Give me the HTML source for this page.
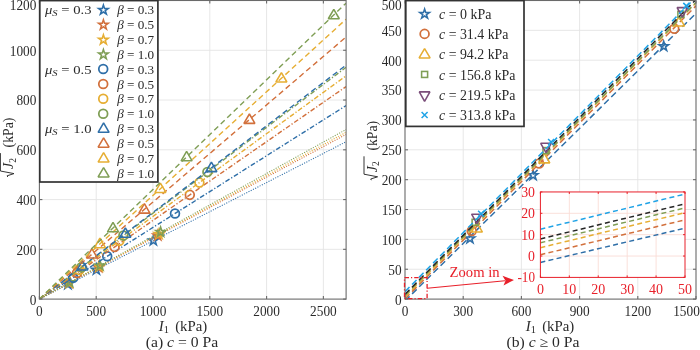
<!DOCTYPE html><html><head><meta charset="utf-8"><style>html,body{margin:0;padding:0;background:#fff;width:700px;height:350px;overflow:hidden}svg{display:block;filter:blur(0.3px);font-family:"Liberation Serif",serif}</style></head><body>
<svg width="700" height="350" viewBox="0 0 700 350">
<rect width="700" height="350" fill="#fff"/>
<defs><clipPath id="cl"><rect x="39.40" y="0.50" width="306.70" height="298.60"/></clipPath><clipPath id="cr"><rect x="405" y="0.8" width="291" height="298.3"/></clipPath></defs>
<line x1="96.20" y1="0.50" x2="96.20" y2="299.10" stroke="#e4e4e4" stroke-width="0.9" stroke-linecap="butt"/>
<line x1="152.99" y1="0.50" x2="152.99" y2="299.10" stroke="#e4e4e4" stroke-width="0.9" stroke-linecap="butt"/>
<line x1="209.79" y1="0.50" x2="209.79" y2="299.10" stroke="#e4e4e4" stroke-width="0.9" stroke-linecap="butt"/>
<line x1="266.59" y1="0.50" x2="266.59" y2="299.10" stroke="#e4e4e4" stroke-width="0.9" stroke-linecap="butt"/>
<line x1="323.38" y1="0.50" x2="323.38" y2="299.10" stroke="#e4e4e4" stroke-width="0.9" stroke-linecap="butt"/>
<line x1="39.40" y1="249.33" x2="346.10" y2="249.33" stroke="#e4e4e4" stroke-width="0.9" stroke-linecap="butt"/>
<line x1="39.40" y1="199.57" x2="346.10" y2="199.57" stroke="#e4e4e4" stroke-width="0.9" stroke-linecap="butt"/>
<line x1="39.40" y1="149.80" x2="346.10" y2="149.80" stroke="#e4e4e4" stroke-width="0.9" stroke-linecap="butt"/>
<line x1="39.40" y1="100.03" x2="346.10" y2="100.03" stroke="#e4e4e4" stroke-width="0.9" stroke-linecap="butt"/>
<line x1="39.40" y1="50.27" x2="346.10" y2="50.27" stroke="#e4e4e4" stroke-width="0.9" stroke-linecap="butt"/>
<g clip-path="url(#cl)">
<line x1="39.40" y1="299.10" x2="346.10" y2="141.76" stroke="#2f6fa8" stroke-width="1.05" stroke-dasharray="1.1 1.4" stroke-linecap="butt"/>
<path d="M67.90 276.92L69.60 282.14L75.09 282.14L70.65 285.37L72.34 290.60L67.90 287.37L63.46 290.60L65.15 285.37L60.71 282.14L66.20 282.14ZM67.90 281.96L68.47 283.70L70.30 283.70L68.82 284.78L69.38 286.52L67.90 285.44L66.42 286.52L66.98 284.78L65.50 283.70L67.33 283.70Z" fill="#2f6fa8" fill-rule="evenodd"/>
<path d="M96.40 262.30L98.10 267.52L103.59 267.52L99.15 270.75L100.84 275.98L96.40 272.75L91.96 275.98L93.65 270.75L89.21 267.52L94.70 267.52ZM96.40 267.34L96.97 269.08L98.80 269.08L97.32 270.16L97.88 271.90L96.40 270.82L94.92 271.90L95.48 270.16L94.00 269.08L95.83 269.08Z" fill="#2f6fa8" fill-rule="evenodd"/>
<path d="M153.40 233.06L155.10 238.28L160.59 238.28L156.15 241.51L157.84 246.73L153.40 243.51L148.96 246.73L150.65 241.51L146.21 238.28L151.70 238.28ZM153.40 238.10L153.97 239.84L155.80 239.84L154.32 240.92L154.88 242.66L153.40 241.58L151.92 242.66L152.48 240.92L151.00 239.84L152.83 239.84Z" fill="#2f6fa8" fill-rule="evenodd"/>
<line x1="39.40" y1="299.10" x2="346.10" y2="134.40" stroke="#d2703c" stroke-width="1.05" stroke-dasharray="1.1 1.4" stroke-linecap="butt"/>
<path d="M69.00 275.64L70.70 280.87L76.19 280.87L71.75 284.10L73.44 289.32L69.00 286.09L64.56 289.32L66.25 284.10L61.81 280.87L67.30 280.87ZM69.00 280.68L69.57 282.43L71.40 282.43L69.92 283.50L70.48 285.24L69.00 284.17L67.52 285.24L68.08 283.50L66.60 282.43L68.43 282.43Z" fill="#d2703c" fill-rule="evenodd"/>
<path d="M98.60 259.75L100.30 264.97L105.79 264.97L101.35 268.20L103.04 273.43L98.60 270.20L94.16 273.43L95.85 268.20L91.41 264.97L96.90 264.97ZM98.60 264.79L99.17 266.53L101.00 266.53L99.52 267.61L100.08 269.35L98.60 268.27L97.12 269.35L97.68 267.61L96.20 266.53L98.03 266.53Z" fill="#d2703c" fill-rule="evenodd"/>
<path d="M157.80 227.96L159.50 233.18L164.99 233.18L160.55 236.41L162.24 241.64L157.80 238.41L153.36 241.64L155.05 236.41L150.61 233.18L156.10 233.18ZM157.80 233.00L158.37 234.74L160.20 234.74L158.72 235.82L159.28 237.56L157.80 236.48L156.32 237.56L156.88 235.82L155.40 234.74L157.23 234.74Z" fill="#d2703c" fill-rule="evenodd"/>
<line x1="39.40" y1="299.10" x2="346.10" y2="132.26" stroke="#e6ae33" stroke-width="1.05" stroke-dasharray="1.1 1.4" stroke-linecap="butt"/>
<path d="M69.30 275.27L71.00 280.50L76.49 280.50L72.05 283.73L73.74 288.95L69.30 285.72L64.86 288.95L66.55 283.73L62.11 280.50L67.60 280.50ZM69.30 280.31L69.87 282.06L71.70 282.06L70.22 283.13L70.78 284.87L69.30 283.80L67.82 284.87L68.38 283.13L66.90 282.06L68.73 282.06Z" fill="#e6ae33" fill-rule="evenodd"/>
<path d="M99.20 259.01L100.90 264.23L106.39 264.23L101.95 267.46L103.64 272.68L99.20 269.46L94.76 272.68L96.45 267.46L92.01 264.23L97.50 264.23ZM99.20 264.05L99.77 265.79L101.60 265.79L100.12 266.87L100.68 268.61L99.20 267.53L97.72 268.61L98.28 266.87L96.80 265.79L98.63 265.79Z" fill="#e6ae33" fill-rule="evenodd"/>
<path d="M159.00 226.48L160.70 231.70L166.19 231.70L161.75 234.93L163.44 240.15L159.00 236.93L154.56 240.15L156.25 234.93L151.81 231.70L157.30 231.70ZM159.00 231.52L159.57 233.26L161.40 233.26L159.92 234.34L160.48 236.08L159.00 235.00L157.52 236.08L158.08 234.34L156.60 233.26L158.43 233.26Z" fill="#e6ae33" fill-rule="evenodd"/>
<line x1="39.40" y1="299.10" x2="346.10" y2="129.49" stroke="#7f9e55" stroke-width="1.05" stroke-dasharray="1.1 1.4" stroke-linecap="butt"/>
<path d="M69.70 274.78L71.40 280.01L76.89 280.01L72.45 283.24L74.14 288.46L69.70 285.23L65.26 288.46L66.95 283.24L62.51 280.01L68.00 280.01ZM69.70 279.82L70.27 281.57L72.10 281.57L70.62 282.64L71.18 284.38L69.70 283.31L68.22 284.38L68.78 282.64L67.30 281.57L69.13 281.57Z" fill="#7f9e55" fill-rule="evenodd"/>
<path d="M100.00 258.03L101.70 263.25L107.19 263.25L102.75 266.48L104.44 271.70L100.00 268.48L95.56 271.70L97.25 266.48L92.81 263.25L98.30 263.25ZM100.00 263.07L100.57 264.81L102.40 264.81L100.92 265.89L101.48 267.63L100.00 266.55L98.52 267.63L99.08 265.89L97.60 264.81L99.43 264.81Z" fill="#7f9e55" fill-rule="evenodd"/>
<path d="M160.60 224.52L162.30 229.74L167.79 229.74L163.35 232.97L165.04 238.19L160.60 234.96L156.16 238.19L157.85 232.97L153.41 229.74L158.90 229.74ZM160.60 229.56L161.17 231.30L163.00 231.30L161.52 232.37L162.08 234.12L160.60 233.04L159.12 234.12L159.68 232.37L158.20 231.30L160.03 231.30Z" fill="#7f9e55" fill-rule="evenodd"/>
<line x1="39.40" y1="299.10" x2="346.10" y2="105.57" stroke="#2f6fa8" stroke-width="1.4" stroke-dasharray="4.8 2 1.2 2" stroke-linecap="butt"/>
<circle cx="73.30" cy="277.71" r="4.40" fill="none" stroke="#2f6fa8" stroke-width="1.75"/>
<circle cx="107.20" cy="256.32" r="4.40" fill="none" stroke="#2f6fa8" stroke-width="1.75"/>
<circle cx="175.00" cy="213.54" r="4.40" fill="none" stroke="#2f6fa8" stroke-width="1.75"/>
<line x1="39.40" y1="299.10" x2="346.10" y2="86.56" stroke="#d2703c" stroke-width="1.4" stroke-dasharray="4.8 2 1.2 2" stroke-linecap="butt"/>
<circle cx="77.00" cy="273.04" r="4.40" fill="none" stroke="#d2703c" stroke-width="1.75"/>
<circle cx="114.60" cy="246.99" r="4.40" fill="none" stroke="#d2703c" stroke-width="1.75"/>
<circle cx="189.80" cy="194.87" r="4.40" fill="none" stroke="#d2703c" stroke-width="1.75"/>
<line x1="39.40" y1="299.10" x2="346.10" y2="75.82" stroke="#e6ae33" stroke-width="1.4" stroke-dasharray="4.8 2 1.2 2" stroke-linecap="butt"/>
<circle cx="79.40" cy="269.98" r="4.40" fill="none" stroke="#e6ae33" stroke-width="1.75"/>
<circle cx="119.40" cy="240.86" r="4.40" fill="none" stroke="#e6ae33" stroke-width="1.75"/>
<circle cx="199.40" cy="182.62" r="4.40" fill="none" stroke="#e6ae33" stroke-width="1.75"/>
<line x1="39.40" y1="299.10" x2="346.10" y2="67.23" stroke="#7f9e55" stroke-width="1.4" stroke-dasharray="4.8 2 1.2 2" stroke-linecap="butt"/>
<circle cx="81.40" cy="267.35" r="4.40" fill="none" stroke="#7f9e55" stroke-width="1.75"/>
<circle cx="123.40" cy="235.60" r="4.40" fill="none" stroke="#7f9e55" stroke-width="1.75"/>
<circle cx="207.40" cy="172.09" r="4.40" fill="none" stroke="#7f9e55" stroke-width="1.75"/>
<line x1="39.40" y1="299.10" x2="346.10" y2="65.09" stroke="#2f6fa8" stroke-width="1.4" stroke-dasharray="5.5 3.5" stroke-linecap="butt"/>
<polygon points="82.40,260.65 87.90,270.05 76.90,270.05" fill="none" stroke="#2f6fa8" stroke-width="1.55" stroke-miterlimit="1.5"/>
<polygon points="125.40,227.84 130.90,237.24 119.90,237.24" fill="none" stroke="#2f6fa8" stroke-width="1.55" stroke-miterlimit="1.5"/>
<polygon points="211.40,162.22 216.90,171.62 205.90,171.62" fill="none" stroke="#2f6fa8" stroke-width="1.55" stroke-miterlimit="1.5"/>
<line x1="39.40" y1="299.10" x2="346.10" y2="36.99" stroke="#d2703c" stroke-width="1.4" stroke-dasharray="5.5 3.5" stroke-linecap="butt"/>
<polygon points="91.90,248.59 97.40,257.99 86.40,257.99" fill="none" stroke="#d2703c" stroke-width="1.55" stroke-miterlimit="1.5"/>
<polygon points="144.40,203.73 149.90,213.13 138.90,213.13" fill="none" stroke="#d2703c" stroke-width="1.55" stroke-miterlimit="1.5"/>
<polygon points="249.40,113.99 254.90,123.39 243.90,123.39" fill="none" stroke="#d2703c" stroke-width="1.55" stroke-miterlimit="1.5"/>
<line x1="39.40" y1="299.10" x2="346.10" y2="19.21" stroke="#e6ae33" stroke-width="1.4" stroke-dasharray="5.5 3.5" stroke-linecap="butt"/>
<polygon points="99.90,238.25 105.40,247.65 94.40,247.65" fill="none" stroke="#e6ae33" stroke-width="1.55" stroke-miterlimit="1.5"/>
<polygon points="160.40,183.04 165.90,192.44 154.90,192.44" fill="none" stroke="#e6ae33" stroke-width="1.55" stroke-miterlimit="1.5"/>
<polygon points="281.40,72.61 286.90,82.01 275.90,82.01" fill="none" stroke="#e6ae33" stroke-width="1.55" stroke-miterlimit="1.5"/>
<line x1="39.40" y1="299.10" x2="346.10" y2="3.13" stroke="#7f9e55" stroke-width="1.4" stroke-dasharray="5.5 3.5" stroke-linecap="butt"/>
<polygon points="113.00,222.44 118.50,231.84 107.50,231.84" fill="none" stroke="#7f9e55" stroke-width="1.55" stroke-miterlimit="1.5"/>
<polygon points="186.60,151.41 192.10,160.81 181.10,160.81" fill="none" stroke="#7f9e55" stroke-width="1.55" stroke-miterlimit="1.5"/>
<polygon points="333.80,9.36 339.30,18.76 328.30,18.76" fill="none" stroke="#7f9e55" stroke-width="1.55" stroke-miterlimit="1.5"/>
</g>
<rect x="39.40" y="0.50" width="306.70" height="298.60" fill="none" stroke="#6a6a6a" stroke-width="1.1"/>
<line x1="39.40" y1="299.10" x2="39.40" y2="296.10" stroke="#6a6a6a" stroke-width="1.1" stroke-linecap="butt"/>
<line x1="39.40" y1="0.50" x2="39.40" y2="3.50" stroke="#6a6a6a" stroke-width="1.1" stroke-linecap="butt"/>
<line x1="96.20" y1="299.10" x2="96.20" y2="296.10" stroke="#6a6a6a" stroke-width="1.1" stroke-linecap="butt"/>
<line x1="96.20" y1="0.50" x2="96.20" y2="3.50" stroke="#6a6a6a" stroke-width="1.1" stroke-linecap="butt"/>
<line x1="152.99" y1="299.10" x2="152.99" y2="296.10" stroke="#6a6a6a" stroke-width="1.1" stroke-linecap="butt"/>
<line x1="152.99" y1="0.50" x2="152.99" y2="3.50" stroke="#6a6a6a" stroke-width="1.1" stroke-linecap="butt"/>
<line x1="209.79" y1="299.10" x2="209.79" y2="296.10" stroke="#6a6a6a" stroke-width="1.1" stroke-linecap="butt"/>
<line x1="209.79" y1="0.50" x2="209.79" y2="3.50" stroke="#6a6a6a" stroke-width="1.1" stroke-linecap="butt"/>
<line x1="266.59" y1="299.10" x2="266.59" y2="296.10" stroke="#6a6a6a" stroke-width="1.1" stroke-linecap="butt"/>
<line x1="266.59" y1="0.50" x2="266.59" y2="3.50" stroke="#6a6a6a" stroke-width="1.1" stroke-linecap="butt"/>
<line x1="323.38" y1="299.10" x2="323.38" y2="296.10" stroke="#6a6a6a" stroke-width="1.1" stroke-linecap="butt"/>
<line x1="323.38" y1="0.50" x2="323.38" y2="3.50" stroke="#6a6a6a" stroke-width="1.1" stroke-linecap="butt"/>
<line x1="39.40" y1="299.10" x2="42.40" y2="299.10" stroke="#6a6a6a" stroke-width="1.1" stroke-linecap="butt"/>
<line x1="346.10" y1="299.10" x2="343.10" y2="299.10" stroke="#6a6a6a" stroke-width="1.1" stroke-linecap="butt"/>
<line x1="39.40" y1="249.33" x2="42.40" y2="249.33" stroke="#6a6a6a" stroke-width="1.1" stroke-linecap="butt"/>
<line x1="346.10" y1="249.33" x2="343.10" y2="249.33" stroke="#6a6a6a" stroke-width="1.1" stroke-linecap="butt"/>
<line x1="39.40" y1="199.57" x2="42.40" y2="199.57" stroke="#6a6a6a" stroke-width="1.1" stroke-linecap="butt"/>
<line x1="346.10" y1="199.57" x2="343.10" y2="199.57" stroke="#6a6a6a" stroke-width="1.1" stroke-linecap="butt"/>
<line x1="39.40" y1="149.80" x2="42.40" y2="149.80" stroke="#6a6a6a" stroke-width="1.1" stroke-linecap="butt"/>
<line x1="346.10" y1="149.80" x2="343.10" y2="149.80" stroke="#6a6a6a" stroke-width="1.1" stroke-linecap="butt"/>
<line x1="39.40" y1="100.03" x2="42.40" y2="100.03" stroke="#6a6a6a" stroke-width="1.1" stroke-linecap="butt"/>
<line x1="346.10" y1="100.03" x2="343.10" y2="100.03" stroke="#6a6a6a" stroke-width="1.1" stroke-linecap="butt"/>
<line x1="39.40" y1="50.27" x2="42.40" y2="50.27" stroke="#6a6a6a" stroke-width="1.1" stroke-linecap="butt"/>
<line x1="346.10" y1="50.27" x2="343.10" y2="50.27" stroke="#6a6a6a" stroke-width="1.1" stroke-linecap="butt"/>
<line x1="39.40" y1="0.50" x2="42.40" y2="0.50" stroke="#6a6a6a" stroke-width="1.1" stroke-linecap="butt"/>
<line x1="346.10" y1="0.50" x2="343.10" y2="0.50" stroke="#6a6a6a" stroke-width="1.1" stroke-linecap="butt"/>
<text x="39.40" y="316.20" font-size="13.8" text-anchor="middle" fill="#2a2a2a" textLength="6.65" lengthAdjust="spacingAndGlyphs">0</text>
<text x="96.20" y="316.20" font-size="13.8" text-anchor="middle" fill="#2a2a2a" textLength="19.95" lengthAdjust="spacingAndGlyphs">500</text>
<text x="152.99" y="316.20" font-size="13.8" text-anchor="middle" fill="#2a2a2a" textLength="26.60" lengthAdjust="spacingAndGlyphs">1000</text>
<text x="209.79" y="316.20" font-size="13.8" text-anchor="middle" fill="#2a2a2a" textLength="26.60" lengthAdjust="spacingAndGlyphs">1500</text>
<text x="266.59" y="316.20" font-size="13.8" text-anchor="middle" fill="#2a2a2a" textLength="26.60" lengthAdjust="spacingAndGlyphs">2000</text>
<text x="323.38" y="316.20" font-size="13.8" text-anchor="middle" fill="#2a2a2a" textLength="26.60" lengthAdjust="spacingAndGlyphs">2500</text>
<text x="36.40" y="304.50" font-size="13.8" text-anchor="end" fill="#2a2a2a" textLength="6.65" lengthAdjust="spacingAndGlyphs">0</text>
<text x="36.40" y="254.73" font-size="13.8" text-anchor="end" fill="#2a2a2a" textLength="19.95" lengthAdjust="spacingAndGlyphs">200</text>
<text x="36.40" y="204.97" font-size="13.8" text-anchor="end" fill="#2a2a2a" textLength="19.95" lengthAdjust="spacingAndGlyphs">400</text>
<text x="36.40" y="155.20" font-size="13.8" text-anchor="end" fill="#2a2a2a" textLength="19.95" lengthAdjust="spacingAndGlyphs">600</text>
<text x="36.40" y="105.43" font-size="13.8" text-anchor="end" fill="#2a2a2a" textLength="19.95" lengthAdjust="spacingAndGlyphs">800</text>
<text x="36.40" y="55.67" font-size="13.8" text-anchor="end" fill="#2a2a2a" textLength="26.60" lengthAdjust="spacingAndGlyphs">1000</text>
<text x="36.40" y="9.70" font-size="13.8" text-anchor="end" fill="#2a2a2a" textLength="26.60" lengthAdjust="spacingAndGlyphs">1200</text>
<text x="183" y="330.8" font-size="14.3" text-anchor="middle" fill="#2a2a2a" textLength="48.5" lengthAdjust="spacingAndGlyphs"><tspan font-style="italic">I</tspan><tspan font-size="10" dy="2">1</tspan><tspan dy="-2" dx="2.5"> (kPa)</tspan></text>
<text x="182" y="346.5" font-size="14.6" text-anchor="middle" fill="#2a2a2a" textLength="72.5" lengthAdjust="spacingAndGlyphs">(a) <tspan font-style="italic">c</tspan> = 0 Pa</text>
<g transform="translate(13.40,177.60) rotate(-90)"><path d="M0.6 -5.6 L1.8 -6.3 L4.0 0.6 L6.6 -13.0 L24.5 -13.0" fill="none" stroke="#2a2a2a" stroke-width="0.95"/><text x="8.6" y="0" font-size="14" fill="#2a2a2a"><tspan font-style="italic">J</tspan><tspan font-size="9.5" dy="2.2">2</tspan></text><text x="30.2" y="0" font-size="14.5" fill="#2a2a2a" textLength="29.8" lengthAdjust="spacingAndGlyphs">(kPa)</text></g>
<rect x="39.8" y="0.6" width="118.1" height="181.4" fill="#fff" stroke="#333" stroke-width="1.7"/>
<path d="M103.40 2.44L105.10 7.66L110.59 7.66L106.15 10.89L107.84 16.12L103.40 12.89L98.96 16.12L100.65 10.89L96.21 7.66L101.70 7.66ZM103.40 7.48L103.97 9.22L105.80 9.22L104.32 10.30L104.88 12.04L103.40 10.96L101.92 12.04L102.48 10.30L101.00 9.22L102.83 9.22Z" fill="#2f6fa8" fill-rule="evenodd"/>
<text x="117.2" y="14.10" font-size="12.5" fill="#2a2a2a" textLength="37" lengthAdjust="spacingAndGlyphs"><tspan font-style="italic">β</tspan> = 0.3</text>
<path d="M103.40 17.32L105.10 22.54L110.59 22.54L106.15 25.77L107.84 31.00L103.40 27.77L98.96 31.00L100.65 25.77L96.21 22.54L101.70 22.54ZM103.40 22.36L103.97 24.10L105.80 24.10L104.32 25.18L104.88 26.92L103.40 25.84L101.92 26.92L102.48 25.18L101.00 24.10L102.83 24.10Z" fill="#d2703c" fill-rule="evenodd"/>
<text x="117.2" y="28.98" font-size="12.5" fill="#2a2a2a" textLength="37" lengthAdjust="spacingAndGlyphs"><tspan font-style="italic">β</tspan> = 0.5</text>
<path d="M103.40 32.20L105.10 37.42L110.59 37.42L106.15 40.65L107.84 45.88L103.40 42.65L98.96 45.88L100.65 40.65L96.21 37.42L101.70 37.42ZM103.40 37.24L103.97 38.98L105.80 38.98L104.32 40.06L104.88 41.80L103.40 40.72L101.92 41.80L102.48 40.06L101.00 38.98L102.83 38.98Z" fill="#e6ae33" fill-rule="evenodd"/>
<text x="117.2" y="43.86" font-size="12.5" fill="#2a2a2a" textLength="37" lengthAdjust="spacingAndGlyphs"><tspan font-style="italic">β</tspan> = 0.7</text>
<path d="M103.40 47.08L105.10 52.30L110.59 52.30L106.15 55.53L107.84 60.76L103.40 57.53L98.96 60.76L100.65 55.53L96.21 52.30L101.70 52.30ZM103.40 52.12L103.97 53.86L105.80 53.86L104.32 54.94L104.88 56.68L103.40 55.60L101.92 56.68L102.48 54.94L101.00 53.86L102.83 53.86Z" fill="#7f9e55" fill-rule="evenodd"/>
<text x="117.2" y="58.74" font-size="12.5" fill="#2a2a2a" textLength="37" lengthAdjust="spacingAndGlyphs"><tspan font-style="italic">β</tspan> = 1.0</text>
<text x="45" y="14.10" font-size="12.5" fill="#2a2a2a" textLength="46.5" lengthAdjust="spacingAndGlyphs"><tspan font-style="italic">μ</tspan><tspan font-style="italic" font-size="9" dy="2">S</tspan><tspan dy="-2"> = 0.3</tspan></text>
<circle cx="103.20" cy="69.02" r="4.40" fill="none" stroke="#2f6fa8" stroke-width="1.75"/>
<text x="117.2" y="73.62" font-size="12.5" fill="#2a2a2a" textLength="37" lengthAdjust="spacingAndGlyphs"><tspan font-style="italic">β</tspan> = 0.3</text>
<circle cx="103.20" cy="83.90" r="4.40" fill="none" stroke="#d2703c" stroke-width="1.75"/>
<text x="117.2" y="88.50" font-size="12.5" fill="#2a2a2a" textLength="37" lengthAdjust="spacingAndGlyphs"><tspan font-style="italic">β</tspan> = 0.5</text>
<circle cx="103.20" cy="98.78" r="4.40" fill="none" stroke="#e6ae33" stroke-width="1.75"/>
<text x="117.2" y="103.38" font-size="12.5" fill="#2a2a2a" textLength="37" lengthAdjust="spacingAndGlyphs"><tspan font-style="italic">β</tspan> = 0.7</text>
<circle cx="103.20" cy="113.66" r="4.40" fill="none" stroke="#7f9e55" stroke-width="1.75"/>
<text x="117.2" y="118.26" font-size="12.5" fill="#2a2a2a" textLength="37" lengthAdjust="spacingAndGlyphs"><tspan font-style="italic">β</tspan> = 1.0</text>
<text x="45" y="73.62" font-size="12.5" fill="#2a2a2a" textLength="46.5" lengthAdjust="spacingAndGlyphs"><tspan font-style="italic">μ</tspan><tspan font-style="italic" font-size="9" dy="2">S</tspan><tspan dy="-2"> = 0.5</tspan></text>
<polygon points="103.60,122.90 109.10,132.30 98.10,132.30" fill="none" stroke="#2f6fa8" stroke-width="1.55" stroke-miterlimit="1.5"/>
<text x="117.2" y="133.14" font-size="12.5" fill="#2a2a2a" textLength="37" lengthAdjust="spacingAndGlyphs"><tspan font-style="italic">β</tspan> = 0.3</text>
<polygon points="103.60,137.78 109.10,147.18 98.10,147.18" fill="none" stroke="#d2703c" stroke-width="1.55" stroke-miterlimit="1.5"/>
<text x="117.2" y="148.02" font-size="12.5" fill="#2a2a2a" textLength="37" lengthAdjust="spacingAndGlyphs"><tspan font-style="italic">β</tspan> = 0.5</text>
<polygon points="103.60,152.66 109.10,162.06 98.10,162.06" fill="none" stroke="#e6ae33" stroke-width="1.55" stroke-miterlimit="1.5"/>
<text x="117.2" y="162.90" font-size="12.5" fill="#2a2a2a" textLength="37" lengthAdjust="spacingAndGlyphs"><tspan font-style="italic">β</tspan> = 0.7</text>
<polygon points="103.60,167.54 109.10,176.94 98.10,176.94" fill="none" stroke="#7f9e55" stroke-width="1.55" stroke-miterlimit="1.5"/>
<text x="117.2" y="177.78" font-size="12.5" fill="#2a2a2a" textLength="37" lengthAdjust="spacingAndGlyphs"><tspan font-style="italic">β</tspan> = 1.0</text>
<text x="45" y="133.14" font-size="12.5" fill="#2a2a2a" textLength="46.5" lengthAdjust="spacingAndGlyphs"><tspan font-style="italic">μ</tspan><tspan font-style="italic" font-size="9" dy="2">S</tspan><tspan dy="-2"> = 1.0</tspan></text>
<line x1="463.20" y1="0.50" x2="463.20" y2="299.10" stroke="#e4e4e4" stroke-width="0.9" stroke-linecap="butt"/>
<line x1="521.40" y1="0.50" x2="521.40" y2="299.10" stroke="#e4e4e4" stroke-width="0.9" stroke-linecap="butt"/>
<line x1="579.60" y1="0.50" x2="579.60" y2="299.10" stroke="#e4e4e4" stroke-width="0.9" stroke-linecap="butt"/>
<line x1="637.80" y1="0.50" x2="637.80" y2="299.10" stroke="#e4e4e4" stroke-width="0.9" stroke-linecap="butt"/>
<line x1="405.00" y1="269.24" x2="696.00" y2="269.24" stroke="#e4e4e4" stroke-width="0.9" stroke-linecap="butt"/>
<line x1="405.00" y1="239.38" x2="696.00" y2="239.38" stroke="#e4e4e4" stroke-width="0.9" stroke-linecap="butt"/>
<line x1="405.00" y1="209.52" x2="696.00" y2="209.52" stroke="#e4e4e4" stroke-width="0.9" stroke-linecap="butt"/>
<line x1="405.00" y1="179.66" x2="696.00" y2="179.66" stroke="#e4e4e4" stroke-width="0.9" stroke-linecap="butt"/>
<line x1="405.00" y1="149.80" x2="696.00" y2="149.80" stroke="#e4e4e4" stroke-width="0.9" stroke-linecap="butt"/>
<line x1="405.00" y1="119.94" x2="696.00" y2="119.94" stroke="#e4e4e4" stroke-width="0.9" stroke-linecap="butt"/>
<line x1="405.00" y1="90.08" x2="696.00" y2="90.08" stroke="#e4e4e4" stroke-width="0.9" stroke-linecap="butt"/>
<line x1="405.00" y1="60.22" x2="696.00" y2="60.22" stroke="#e4e4e4" stroke-width="0.9" stroke-linecap="butt"/>
<line x1="405.00" y1="30.36" x2="696.00" y2="30.36" stroke="#e4e4e4" stroke-width="0.9" stroke-linecap="butt"/>
<g clip-path="url(#cr)">
<line x1="405.00" y1="300.89" x2="696.00" y2="13.34" stroke="#2f6fa8" stroke-width="1.5" stroke-dasharray="6.4 3.6" stroke-linecap="butt"/>
<path d="M470.00 231.04L471.70 236.26L477.19 236.26L472.75 239.49L474.44 244.72L470.00 241.49L465.56 244.72L467.25 239.49L462.81 236.26L468.30 236.26ZM470.00 236.08L470.57 237.82L472.40 237.82L470.92 238.90L471.48 240.64L470.00 239.56L468.52 240.64L469.08 238.90L467.60 237.82L469.43 237.82Z" fill="#2f6fa8" fill-rule="evenodd"/>
<path d="M533.10 167.84L534.80 173.06L540.29 173.06L535.85 176.29L537.54 181.52L533.10 178.29L528.66 181.52L530.35 176.29L525.91 173.06L531.40 173.06ZM533.10 172.88L533.67 174.62L535.50 174.62L534.02 175.70L534.58 177.44L533.10 176.36L531.62 177.44L532.18 175.70L530.70 174.62L532.53 174.62Z" fill="#2f6fa8" fill-rule="evenodd"/>
<path d="M663.70 38.74L665.40 43.96L670.89 43.96L666.45 47.19L668.14 52.42L663.70 49.19L659.26 52.42L660.95 47.19L656.51 43.96L662.00 43.96ZM663.70 43.78L664.27 45.52L666.10 45.52L664.62 46.60L665.18 48.34L663.70 47.26L662.22 48.34L662.78 46.60L661.30 45.52L663.13 45.52Z" fill="#2f6fa8" fill-rule="evenodd"/>
<line x1="405.00" y1="298.74" x2="696.00" y2="5.82" stroke="#d2703c" stroke-width="1.5" stroke-dasharray="6.4 3.6" stroke-linecap="butt"/>
<circle cx="471.70" cy="230.90" r="4.40" fill="none" stroke="#d2703c" stroke-width="1.75"/>
<circle cx="539.10" cy="163.40" r="4.40" fill="none" stroke="#d2703c" stroke-width="1.75"/>
<circle cx="674.30" cy="28.80" r="4.40" fill="none" stroke="#d2703c" stroke-width="1.75"/>
<line x1="405.00" y1="296.77" x2="696.00" y2="2.95" stroke="#e6ae33" stroke-width="1.5" stroke-dasharray="6.4 3.6" stroke-linecap="butt"/>
<polygon points="476.90,222.66 482.40,232.06 471.40,232.06" fill="none" stroke="#e6ae33" stroke-width="1.55" stroke-miterlimit="1.5"/>
<polygon points="544.30,153.46 549.80,162.86 538.80,162.86" fill="none" stroke="#e6ae33" stroke-width="1.55" stroke-miterlimit="1.5"/>
<polygon points="679.10,16.66 684.60,26.06 673.60,26.06" fill="none" stroke="#e6ae33" stroke-width="1.55" stroke-miterlimit="1.5"/>
<line x1="405.00" y1="295.40" x2="696.00" y2="2.47" stroke="#7f9e55" stroke-width="1.5" stroke-dasharray="6.4 3.6" stroke-linecap="butt"/>
<rect x="472.10" y="219.30" width="6.00" height="6.00" fill="none" stroke="#7f9e55" stroke-width="1.55"/>
<rect x="543.00" y="147.60" width="6.00" height="6.00" fill="none" stroke="#7f9e55" stroke-width="1.55"/>
<rect x="677.90" y="11.30" width="6.00" height="6.00" fill="none" stroke="#7f9e55" stroke-width="1.55"/>
<line x1="405.00" y1="294.32" x2="696.00" y2="-0.40" stroke="#262626" stroke-width="1.5" stroke-dasharray="6.4 3.6" stroke-linecap="butt"/>
<polygon points="476.90,223.64 482.20,214.24 471.60,214.24" fill="none" stroke="#7b4e7a" stroke-width="1.55" stroke-miterlimit="1.5"/>
<polygon points="546.00,152.74 551.30,143.34 540.70,143.34" fill="none" stroke="#7b4e7a" stroke-width="1.55" stroke-miterlimit="1.5"/>
<polygon points="682.40,17.04 687.70,7.64 677.10,7.64" fill="none" stroke="#7b4e7a" stroke-width="1.55" stroke-miterlimit="1.5"/>
<line x1="405.00" y1="291.60" x2="696.00" y2="-3.12" stroke="#20a3e6" stroke-width="1.5" stroke-dasharray="6.4 3.6" stroke-linecap="butt"/>
<path d="M478.10 210.70L484.10 216.70M478.10 216.70L484.10 210.70" stroke="#20a3e6" stroke-width="1.55"/>
<path d="M548.10 139.00L554.10 145.00M548.10 145.00L554.10 139.00" stroke="#20a3e6" stroke-width="1.55"/>
<path d="M683.30 2.90L689.30 8.90M683.30 8.90L689.30 2.90" stroke="#20a3e6" stroke-width="1.55"/>
</g>
<rect x="405.00" y="0.50" width="291.00" height="298.60" fill="none" stroke="#6a6a6a" stroke-width="1.1"/>
<line x1="405.00" y1="299.10" x2="405.00" y2="296.10" stroke="#6a6a6a" stroke-width="1.1" stroke-linecap="butt"/>
<line x1="405.00" y1="0.50" x2="405.00" y2="3.50" stroke="#6a6a6a" stroke-width="1.1" stroke-linecap="butt"/>
<line x1="463.20" y1="299.10" x2="463.20" y2="296.10" stroke="#6a6a6a" stroke-width="1.1" stroke-linecap="butt"/>
<line x1="463.20" y1="0.50" x2="463.20" y2="3.50" stroke="#6a6a6a" stroke-width="1.1" stroke-linecap="butt"/>
<line x1="521.40" y1="299.10" x2="521.40" y2="296.10" stroke="#6a6a6a" stroke-width="1.1" stroke-linecap="butt"/>
<line x1="521.40" y1="0.50" x2="521.40" y2="3.50" stroke="#6a6a6a" stroke-width="1.1" stroke-linecap="butt"/>
<line x1="579.60" y1="299.10" x2="579.60" y2="296.10" stroke="#6a6a6a" stroke-width="1.1" stroke-linecap="butt"/>
<line x1="579.60" y1="0.50" x2="579.60" y2="3.50" stroke="#6a6a6a" stroke-width="1.1" stroke-linecap="butt"/>
<line x1="637.80" y1="299.10" x2="637.80" y2="296.10" stroke="#6a6a6a" stroke-width="1.1" stroke-linecap="butt"/>
<line x1="637.80" y1="0.50" x2="637.80" y2="3.50" stroke="#6a6a6a" stroke-width="1.1" stroke-linecap="butt"/>
<line x1="696.00" y1="299.10" x2="696.00" y2="296.10" stroke="#6a6a6a" stroke-width="1.1" stroke-linecap="butt"/>
<line x1="696.00" y1="0.50" x2="696.00" y2="3.50" stroke="#6a6a6a" stroke-width="1.1" stroke-linecap="butt"/>
<line x1="405.00" y1="299.10" x2="408.00" y2="299.10" stroke="#6a6a6a" stroke-width="1.1" stroke-linecap="butt"/>
<line x1="696.00" y1="299.10" x2="693.00" y2="299.10" stroke="#6a6a6a" stroke-width="1.1" stroke-linecap="butt"/>
<line x1="405.00" y1="269.24" x2="408.00" y2="269.24" stroke="#6a6a6a" stroke-width="1.1" stroke-linecap="butt"/>
<line x1="696.00" y1="269.24" x2="693.00" y2="269.24" stroke="#6a6a6a" stroke-width="1.1" stroke-linecap="butt"/>
<line x1="405.00" y1="239.38" x2="408.00" y2="239.38" stroke="#6a6a6a" stroke-width="1.1" stroke-linecap="butt"/>
<line x1="696.00" y1="239.38" x2="693.00" y2="239.38" stroke="#6a6a6a" stroke-width="1.1" stroke-linecap="butt"/>
<line x1="405.00" y1="209.52" x2="408.00" y2="209.52" stroke="#6a6a6a" stroke-width="1.1" stroke-linecap="butt"/>
<line x1="696.00" y1="209.52" x2="693.00" y2="209.52" stroke="#6a6a6a" stroke-width="1.1" stroke-linecap="butt"/>
<line x1="405.00" y1="179.66" x2="408.00" y2="179.66" stroke="#6a6a6a" stroke-width="1.1" stroke-linecap="butt"/>
<line x1="696.00" y1="179.66" x2="693.00" y2="179.66" stroke="#6a6a6a" stroke-width="1.1" stroke-linecap="butt"/>
<line x1="405.00" y1="149.80" x2="408.00" y2="149.80" stroke="#6a6a6a" stroke-width="1.1" stroke-linecap="butt"/>
<line x1="696.00" y1="149.80" x2="693.00" y2="149.80" stroke="#6a6a6a" stroke-width="1.1" stroke-linecap="butt"/>
<line x1="405.00" y1="119.94" x2="408.00" y2="119.94" stroke="#6a6a6a" stroke-width="1.1" stroke-linecap="butt"/>
<line x1="696.00" y1="119.94" x2="693.00" y2="119.94" stroke="#6a6a6a" stroke-width="1.1" stroke-linecap="butt"/>
<line x1="405.00" y1="90.08" x2="408.00" y2="90.08" stroke="#6a6a6a" stroke-width="1.1" stroke-linecap="butt"/>
<line x1="696.00" y1="90.08" x2="693.00" y2="90.08" stroke="#6a6a6a" stroke-width="1.1" stroke-linecap="butt"/>
<line x1="405.00" y1="60.22" x2="408.00" y2="60.22" stroke="#6a6a6a" stroke-width="1.1" stroke-linecap="butt"/>
<line x1="696.00" y1="60.22" x2="693.00" y2="60.22" stroke="#6a6a6a" stroke-width="1.1" stroke-linecap="butt"/>
<line x1="405.00" y1="30.36" x2="408.00" y2="30.36" stroke="#6a6a6a" stroke-width="1.1" stroke-linecap="butt"/>
<line x1="696.00" y1="30.36" x2="693.00" y2="30.36" stroke="#6a6a6a" stroke-width="1.1" stroke-linecap="butt"/>
<line x1="405.00" y1="0.50" x2="408.00" y2="0.50" stroke="#6a6a6a" stroke-width="1.1" stroke-linecap="butt"/>
<line x1="696.00" y1="0.50" x2="693.00" y2="0.50" stroke="#6a6a6a" stroke-width="1.1" stroke-linecap="butt"/>
<text x="405.00" y="316.20" font-size="13.8" text-anchor="middle" fill="#2a2a2a" textLength="6.65" lengthAdjust="spacingAndGlyphs">0</text>
<text x="463.20" y="316.20" font-size="13.8" text-anchor="middle" fill="#2a2a2a" textLength="19.95" lengthAdjust="spacingAndGlyphs">300</text>
<text x="521.40" y="316.20" font-size="13.8" text-anchor="middle" fill="#2a2a2a" textLength="19.95" lengthAdjust="spacingAndGlyphs">600</text>
<text x="579.60" y="316.20" font-size="13.8" text-anchor="middle" fill="#2a2a2a" textLength="19.95" lengthAdjust="spacingAndGlyphs">900</text>
<text x="637.80" y="316.20" font-size="13.8" text-anchor="middle" fill="#2a2a2a" textLength="26.60" lengthAdjust="spacingAndGlyphs">1200</text>
<text x="686.50" y="316.20" font-size="13.8" text-anchor="middle" fill="#2a2a2a" textLength="26.60" lengthAdjust="spacingAndGlyphs">1500</text>
<text x="401.60" y="304.50" font-size="13.8" text-anchor="end" fill="#2a2a2a" textLength="6.65" lengthAdjust="spacingAndGlyphs">0</text>
<text x="401.60" y="274.64" font-size="13.8" text-anchor="end" fill="#2a2a2a" textLength="13.30" lengthAdjust="spacingAndGlyphs">50</text>
<text x="401.60" y="244.78" font-size="13.8" text-anchor="end" fill="#2a2a2a" textLength="19.95" lengthAdjust="spacingAndGlyphs">100</text>
<text x="401.60" y="214.92" font-size="13.8" text-anchor="end" fill="#2a2a2a" textLength="19.95" lengthAdjust="spacingAndGlyphs">150</text>
<text x="401.60" y="185.06" font-size="13.8" text-anchor="end" fill="#2a2a2a" textLength="19.95" lengthAdjust="spacingAndGlyphs">200</text>
<text x="401.60" y="155.20" font-size="13.8" text-anchor="end" fill="#2a2a2a" textLength="19.95" lengthAdjust="spacingAndGlyphs">250</text>
<text x="401.60" y="125.34" font-size="13.8" text-anchor="end" fill="#2a2a2a" textLength="19.95" lengthAdjust="spacingAndGlyphs">300</text>
<text x="401.60" y="95.48" font-size="13.8" text-anchor="end" fill="#2a2a2a" textLength="19.95" lengthAdjust="spacingAndGlyphs">350</text>
<text x="401.60" y="65.62" font-size="13.8" text-anchor="end" fill="#2a2a2a" textLength="19.95" lengthAdjust="spacingAndGlyphs">400</text>
<text x="401.60" y="35.76" font-size="13.8" text-anchor="end" fill="#2a2a2a" textLength="19.95" lengthAdjust="spacingAndGlyphs">450</text>
<text x="401.60" y="9.70" font-size="13.8" text-anchor="end" fill="#2a2a2a" textLength="19.95" lengthAdjust="spacingAndGlyphs">500</text>
<text x="550" y="331" font-size="14.3" text-anchor="middle" fill="#2a2a2a" textLength="48.5" lengthAdjust="spacingAndGlyphs"><tspan font-style="italic">I</tspan><tspan font-size="10" dy="2">1</tspan><tspan dy="-2" dx="2.5"> (kPa)</tspan></text>
<text x="543" y="346.5" font-size="14.6" text-anchor="middle" fill="#2a2a2a" textLength="73" lengthAdjust="spacingAndGlyphs">(b) <tspan font-style="italic">c</tspan> ≥ 0 Pa</text>
<g transform="translate(377.00,180.80) rotate(-90)"><path d="M0.6 -5.6 L1.8 -6.3 L4.0 0.6 L6.6 -13.0 L24.5 -13.0" fill="none" stroke="#2a2a2a" stroke-width="0.95"/><text x="8.6" y="0" font-size="14" fill="#2a2a2a"><tspan font-style="italic">J</tspan><tspan font-size="9.5" dy="2.2">2</tspan></text><text x="30.2" y="0" font-size="14.5" fill="#2a2a2a" textLength="29.8" lengthAdjust="spacingAndGlyphs">(kPa)</text></g>
<rect x="405.8" y="0.6" width="118.2" height="125.8" fill="#fff" stroke="#333" stroke-width="1.7"/>
<path d="M424.60 6.44L426.30 11.66L431.79 11.66L427.35 14.89L429.04 20.12L424.60 16.89L420.16 20.12L421.85 14.89L417.41 11.66L422.90 11.66ZM424.60 11.48L425.17 13.22L427.00 13.22L425.52 14.30L426.08 16.04L424.60 14.96L423.12 16.04L423.68 14.30L422.20 13.22L424.03 13.22Z" fill="#2f6fa8" fill-rule="evenodd"/>
<text x="439" y="18.80" font-size="14.2" fill="#2a2a2a" textLength="52.5" lengthAdjust="spacingAndGlyphs"><tspan font-style="italic">c</tspan> = 0 kPa</text>
<circle cx="424.60" cy="33.88" r="4.40" fill="none" stroke="#d2703c" stroke-width="1.75"/>
<text x="439" y="39.08" font-size="14.2" fill="#2a2a2a" textLength="69.5" lengthAdjust="spacingAndGlyphs"><tspan font-style="italic">c</tspan> = 31.4 kPa</text>
<polygon points="424.60,48.52 430.10,57.92 419.10,57.92" fill="none" stroke="#e6ae33" stroke-width="1.55" stroke-miterlimit="1.5"/>
<text x="439" y="59.36" font-size="14.2" fill="#2a2a2a" textLength="69.5" lengthAdjust="spacingAndGlyphs"><tspan font-style="italic">c</tspan> = 94.2 kPa</text>
<rect x="421.60" y="71.44" width="6.00" height="6.00" fill="none" stroke="#7f9e55" stroke-width="1.55"/>
<text x="439" y="79.64" font-size="14.2" fill="#2a2a2a" textLength="76.5" lengthAdjust="spacingAndGlyphs"><tspan font-style="italic">c</tspan> = 156.8 kPa</text>
<polygon points="424.60,101.26 429.90,91.86 419.30,91.86" fill="none" stroke="#7b4e7a" stroke-width="1.55" stroke-miterlimit="1.5"/>
<text x="439" y="99.92" font-size="14.2" fill="#2a2a2a" textLength="76.5" lengthAdjust="spacingAndGlyphs"><tspan font-style="italic">c</tspan> = 219.5 kPa</text>
<path d="M421.60 112.00L427.60 118.00M421.60 118.00L427.60 112.00" stroke="#20a3e6" stroke-width="1.55"/>
<text x="439" y="120.20" font-size="14.2" fill="#2a2a2a" textLength="76.5" lengthAdjust="spacingAndGlyphs"><tspan font-style="italic">c</tspan> = 313.8 kPa</text>
<rect x="540.40" y="191.95" width="144.60" height="85.45" fill="#fff"/>
<line x1="569.32" y1="191.95" x2="569.32" y2="277.40" stroke="#f9dcd6" stroke-width="0.9" stroke-linecap="butt"/>
<line x1="598.24" y1="191.95" x2="598.24" y2="277.40" stroke="#f9dcd6" stroke-width="0.9" stroke-linecap="butt"/>
<line x1="627.16" y1="191.95" x2="627.16" y2="277.40" stroke="#f9dcd6" stroke-width="0.9" stroke-linecap="butt"/>
<line x1="656.08" y1="191.95" x2="656.08" y2="277.40" stroke="#f9dcd6" stroke-width="0.9" stroke-linecap="butt"/>
<line x1="540.40" y1="256.04" x2="685.00" y2="256.04" stroke="#f9dcd6" stroke-width="0.9" stroke-linecap="butt"/>
<line x1="540.40" y1="234.67" x2="685.00" y2="234.67" stroke="#f9dcd6" stroke-width="0.9" stroke-linecap="butt"/>
<line x1="540.40" y1="213.31" x2="685.00" y2="213.31" stroke="#f9dcd6" stroke-width="0.9" stroke-linecap="butt"/>
<defs><clipPath id="ci"><rect x="540.40" y="191.95" width="144.60" height="85.45"/></clipPath></defs>
<g clip-path="url(#ci)">
<line x1="540.40" y1="262.45" x2="685.00" y2="228.16" stroke="#2f6fa8" stroke-width="1.5" stroke-dasharray="5 3.3" stroke-linecap="butt"/>
<line x1="540.40" y1="254.76" x2="685.00" y2="219.83" stroke="#d2703c" stroke-width="1.5" stroke-dasharray="5 3.3" stroke-linecap="butt"/>
<line x1="540.40" y1="247.71" x2="685.00" y2="212.67" stroke="#e6ae33" stroke-width="1.5" stroke-dasharray="5 3.3" stroke-linecap="butt"/>
<line x1="540.40" y1="242.79" x2="685.00" y2="207.87" stroke="#7f9e55" stroke-width="1.5" stroke-dasharray="5 3.3" stroke-linecap="butt"/>
<line x1="540.40" y1="238.95" x2="685.00" y2="203.81" stroke="#262626" stroke-width="1.5" stroke-dasharray="5 3.3" stroke-linecap="butt"/>
<line x1="540.40" y1="229.21" x2="685.00" y2="194.06" stroke="#20a3e6" stroke-width="1.5" stroke-dasharray="5 3.3" stroke-linecap="butt"/>
</g>
<rect x="540.40" y="191.95" width="144.60" height="85.45" fill="none" stroke="#e8202a" stroke-width="1"/>
<line x1="540.40" y1="277.40" x2="540.40" y2="275.40" stroke="#e8202a" stroke-width="1" stroke-linecap="butt"/>
<line x1="540.40" y1="191.95" x2="540.40" y2="193.95" stroke="#e8202a" stroke-width="1" stroke-linecap="butt"/>
<text x="540.40" y="294.40" font-size="15" text-anchor="middle" fill="#e8202a" textLength="7.00" lengthAdjust="spacingAndGlyphs">0</text>
<line x1="569.32" y1="277.40" x2="569.32" y2="275.40" stroke="#e8202a" stroke-width="1" stroke-linecap="butt"/>
<line x1="569.32" y1="191.95" x2="569.32" y2="193.95" stroke="#e8202a" stroke-width="1" stroke-linecap="butt"/>
<text x="569.32" y="294.40" font-size="15" text-anchor="middle" fill="#e8202a" textLength="14.00" lengthAdjust="spacingAndGlyphs">10</text>
<line x1="598.24" y1="277.40" x2="598.24" y2="275.40" stroke="#e8202a" stroke-width="1" stroke-linecap="butt"/>
<line x1="598.24" y1="191.95" x2="598.24" y2="193.95" stroke="#e8202a" stroke-width="1" stroke-linecap="butt"/>
<text x="598.24" y="294.40" font-size="15" text-anchor="middle" fill="#e8202a" textLength="14.00" lengthAdjust="spacingAndGlyphs">20</text>
<line x1="627.16" y1="277.40" x2="627.16" y2="275.40" stroke="#e8202a" stroke-width="1" stroke-linecap="butt"/>
<line x1="627.16" y1="191.95" x2="627.16" y2="193.95" stroke="#e8202a" stroke-width="1" stroke-linecap="butt"/>
<text x="627.16" y="294.40" font-size="15" text-anchor="middle" fill="#e8202a" textLength="14.00" lengthAdjust="spacingAndGlyphs">30</text>
<line x1="656.08" y1="277.40" x2="656.08" y2="275.40" stroke="#e8202a" stroke-width="1" stroke-linecap="butt"/>
<line x1="656.08" y1="191.95" x2="656.08" y2="193.95" stroke="#e8202a" stroke-width="1" stroke-linecap="butt"/>
<text x="656.08" y="294.40" font-size="15" text-anchor="middle" fill="#e8202a" textLength="14.00" lengthAdjust="spacingAndGlyphs">40</text>
<line x1="685.00" y1="277.40" x2="685.00" y2="275.40" stroke="#e8202a" stroke-width="1" stroke-linecap="butt"/>
<line x1="685.00" y1="191.95" x2="685.00" y2="193.95" stroke="#e8202a" stroke-width="1" stroke-linecap="butt"/>
<text x="685.00" y="294.40" font-size="15" text-anchor="middle" fill="#e8202a" textLength="14.00" lengthAdjust="spacingAndGlyphs">50</text>
<line x1="540.40" y1="277.40" x2="542.40" y2="277.40" stroke="#e8202a" stroke-width="1" stroke-linecap="butt"/>
<line x1="685.00" y1="277.40" x2="683.00" y2="277.40" stroke="#e8202a" stroke-width="1" stroke-linecap="butt"/>
<text x="535.00" y="282.40" font-size="15" text-anchor="end" fill="#e8202a" textLength="17.50" lengthAdjust="spacingAndGlyphs">-10</text>
<line x1="540.40" y1="256.04" x2="542.40" y2="256.04" stroke="#e8202a" stroke-width="1" stroke-linecap="butt"/>
<line x1="685.00" y1="256.04" x2="683.00" y2="256.04" stroke="#e8202a" stroke-width="1" stroke-linecap="butt"/>
<text x="535.00" y="261.04" font-size="15" text-anchor="end" fill="#e8202a" textLength="6.90" lengthAdjust="spacingAndGlyphs">0</text>
<line x1="540.40" y1="234.67" x2="542.40" y2="234.67" stroke="#e8202a" stroke-width="1" stroke-linecap="butt"/>
<line x1="685.00" y1="234.67" x2="683.00" y2="234.67" stroke="#e8202a" stroke-width="1" stroke-linecap="butt"/>
<text x="535.00" y="239.67" font-size="15" text-anchor="end" fill="#e8202a" textLength="13.80" lengthAdjust="spacingAndGlyphs">10</text>
<line x1="540.40" y1="213.31" x2="542.40" y2="213.31" stroke="#e8202a" stroke-width="1" stroke-linecap="butt"/>
<line x1="685.00" y1="213.31" x2="683.00" y2="213.31" stroke="#e8202a" stroke-width="1" stroke-linecap="butt"/>
<text x="535.00" y="218.31" font-size="15" text-anchor="end" fill="#e8202a" textLength="13.80" lengthAdjust="spacingAndGlyphs">20</text>
<line x1="540.40" y1="191.95" x2="542.40" y2="191.95" stroke="#e8202a" stroke-width="1" stroke-linecap="butt"/>
<line x1="685.00" y1="191.95" x2="683.00" y2="191.95" stroke="#e8202a" stroke-width="1" stroke-linecap="butt"/>
<text x="535.00" y="196.95" font-size="15" text-anchor="end" fill="#e8202a" textLength="13.80" lengthAdjust="spacingAndGlyphs">30</text>
<rect x="404.5" y="277.6" width="22.6" height="21" fill="none" stroke="#e8202a" stroke-width="1.3" stroke-dasharray="4.5 2 1.2 2"/>
<line x1="427.10" y1="288.20" x2="505.00" y2="280.80" stroke="#e8202a" stroke-width="1.1" stroke-linecap="butt"/>
<polygon points="514,280 502.5,275.8 505.5,280.7 503.5,285.4" fill="#e8202a"/>
<text x="474.60" y="276.80" font-size="14.6" text-anchor="middle" fill="#e8202a" textLength="50.00" lengthAdjust="spacingAndGlyphs">Zoom in</text>
</svg></body></html>
